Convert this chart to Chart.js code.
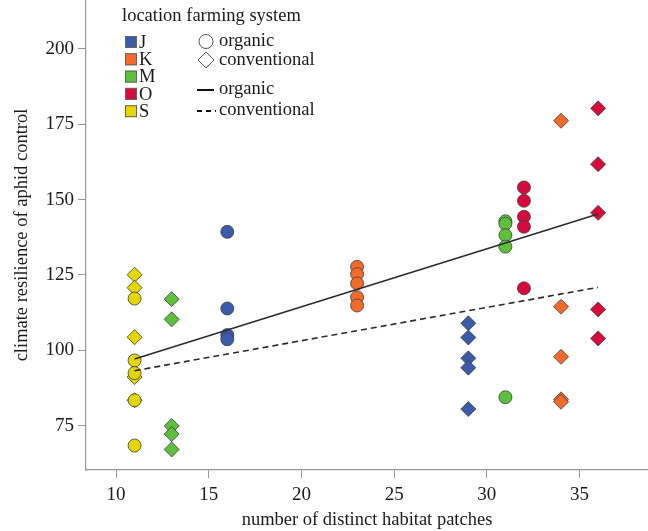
<!DOCTYPE html>
<html lang="en">

<head>
  <meta charset="UTF-8">
  <title>Climate resilience of aphid control</title>
  <script src="https://cdn.jsdelivr.net/npm/chart.js"></script>
  <style>
    html, body { margin: 0; padding: 0; background: #fff; }
    #wrap { width: 648px; height: 531px; }
  </style>
</head>

<body>
  <div id="wrap"><canvas id="resChart" width="648" height="531"></canvas></div>
  <script>
    // locations and their colours
    const locations = ['J', 'K', 'M', 'O', 'S'];
    const locColors = ['#3B5BAA', '#F36A2B', '#5CC03B', '#D60B3B', '#E4D600'];

    // number of habitat patches per location (organic / conventional farm)
    const patchesOrganic = [16, 23, 31, 32, 11];
    const patchesConventional = [29, 34, 13, 36, 11];

    // climate resilience values
    const organicValues = [
      [139.3, 113.9, 105.1, 103.7],
      [127.7, 125.3, 122.2, 117.6, 114.9],
      [142.8, 142.0, 138.2, 134.4, 84.5],
      [154.0, 149.6, 144.3, 141.0, 120.6],
      [117.2, 96.7, 92.5, 83.5, 68.5]
    ];
    const conventionalValues = [
      [109.0, 104.3, 97.4, 94.3, 80.6],
      [176.1, 114.5, 97.9, 83.8, 83.0],
      [117.0, 110.3, 75.0, 72.3, 67.2],
      [180.2, 161.7, 145.6, 113.6, 104.0],
      [125.1, 120.8, 104.4, 91.2, 83.5]
    ];

    // fitted lines (end points)
    const fitX = [11, 36];
    const organicFit = [97.2, 145.2];
    const conventionalFit = [93.3, 120.9];

    const xTicks = [10, 15, 20, 25, 30, 35];
    const yTicks = [75, 100, 125, 150, 175, 200];

    const serif = '"Liberation Serif", "DejaVu Serif", serif';
    const textColor = '#1a1a1a';
    const axisColor = '#9a9a9a';

    const datasets = [];

    // fit lines first so they sit on top
    datasets.push({
      type: 'line',
      label: 'organic fit',
      data: fitX.map((x, i) => ({ x: x, y: organicFit[i] })),
      borderColor: '#2b2b2b',
      borderWidth: 1.6,
      pointRadius: 0,
      fill: false,
      order: 0
    });
    datasets.push({
      type: 'line',
      label: 'conventional fit',
      data: fitX.map((x, i) => ({ x: x, y: conventionalFit[i] })),
      borderColor: '#2b2b2b',
      borderWidth: 1.6,
      borderDash: [6, 4],
      pointRadius: 0,
      fill: false,
      order: 0
    });

    locations.forEach((loc, i) => {
      datasets.push({
        label: loc + ' conventional',
        data: conventionalValues[i].map(v => ({ x: patchesConventional[i], y: v })),
        pointStyle: 'rectRot',
        pointRadius: 7.5,
        backgroundColor: locColors[i],
        borderColor: '#3d3d3d',
        borderWidth: 0.8,
        order: 2
      });
      datasets.push({
        label: loc + ' organic',
        data: organicValues[i].map(v => ({ x: patchesOrganic[i], y: v })),
        pointStyle: 'circle',
        pointRadius: 6.5,
        backgroundColor: locColors[i],
        borderColor: '#3d3d3d',
        borderWidth: 0.8,
        order: 1
      });
    });

    // legend drawn inside the plot, top left
    const legendPlugin = {
      id: 'customLegend',
      afterDraw(chart) {
        const ctx = chart.ctx;
        ctx.save();
        ctx.font = '18.5px ' + serif;
        ctx.fillStyle = textColor;
        ctx.textBaseline = 'middle';
        ctx.textAlign = 'left';
        ctx.fillText('location farming system', 122, 16);

        const rowY = [42, 59.3, 76.6, 93.9, 111.2];
        locations.forEach((loc, i) => {
          ctx.fillStyle = locColors[i];
          ctx.fillRect(125, rowY[i] - 6, 12, 12);
          ctx.strokeStyle = '#666';
          ctx.lineWidth = 1;
          ctx.strokeRect(125.5, rowY[i] - 5.5, 11, 11);
          ctx.fillStyle = textColor;
          ctx.fillText(loc, 139, rowY[i] + 1);
        });

        ctx.strokeStyle = '#555';
        ctx.lineWidth = 1;
        ctx.beginPath();
        ctx.arc(206, 41.5, 7, 0, Math.PI * 2);
        ctx.stroke();
        ctx.beginPath();
        ctx.moveTo(206, 52);
        ctx.lineTo(214, 60);
        ctx.lineTo(206, 68);
        ctx.lineTo(198, 60);
        ctx.closePath();
        ctx.stroke();

        ctx.strokeStyle = '#111';
        ctx.lineWidth = 2;
        ctx.beginPath();
        ctx.moveTo(197, 90);
        ctx.lineTo(214, 90);
        ctx.stroke();
        ctx.setLineDash([5, 4]);
        ctx.beginPath();
        ctx.moveTo(197, 111);
        ctx.lineTo(216, 111);
        ctx.stroke();
        ctx.setLineDash([]);

        ctx.fillStyle = textColor;
        ctx.fillText('organic', 219, 41);
        ctx.fillText('conventional', 219, 60);
        ctx.fillText('organic', 219, 89);
        ctx.fillText('conventional', 219, 110);
        ctx.restore();
      }
    };

    // drop the extra room Chart.js keeps for the end tick labels
    function noPad(s) {
      s.paddingTop = 0;
      s.paddingBottom = 0;
      s.paddingLeft = 0;
      s.paddingRight = 0;
    }

    const ctx = document.getElementById('resChart').getContext('2d');
    const resChart = new Chart(ctx, {
      type: 'scatter',
      data: { datasets: datasets },
      plugins: [legendPlugin],
      options: {
        responsive: false,
        animation: false,
        layout: { padding: 0, autoPadding: false },
        plugins: {
          legend: { display: false },
          tooltip: { enabled: false }
        },
        scales: {
          x: {
            type: 'linear',
            min: 8.38,
            max: 38.69,
            afterBuildTicks: s => { s.ticks = xTicks.map(v => ({ value: v })); },
            afterFit: s => { s.height = 61; noPad(s); },
            grid: { drawOnChartArea: false, tickLength: 8, color: axisColor },
            border: { color: axisColor, width: 1.2 },
            ticks: { font: { family: serif, size: 19 }, color: textColor, padding: 6 },
            title: {
              display: true,
              text: 'number of distinct habitat patches',
              font: { family: serif, size: 18.5 },
              color: textColor,
              padding: { top: 0, bottom: 0 }
            }
          },
          y: {
            type: 'linear',
            min: 60.4,
            max: 216.1,
            afterBuildTicks: s => { s.ticks = yTicks.map(v => ({ value: v })); },
            afterFit: s => { s.width = 86; noPad(s); },
            grid: { drawOnChartArea: false, tickLength: 8, color: axisColor },
            border: { color: axisColor, width: 1.2 },
            ticks: { font: { family: serif, size: 19 }, color: textColor, padding: 4 },
            title: {
              display: true,
              text: 'climate resilience of aphid control',
              font: { family: serif, size: 18.5 },
              color: textColor,
              padding: { top: 11, bottom: 0 }
            }
          }
        }
      }
    });
  </script>
</body>

</html>
